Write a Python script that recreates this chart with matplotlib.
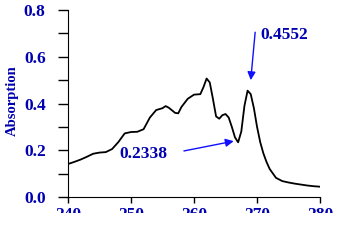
import matplotlib
matplotlib.use("Agg")
import matplotlib.pyplot as plt
from matplotlib.patches import Rectangle

# spectrum
wavelength = [240, 241, 242, 243, 244, 245, 246, 247, 248, 249, 250, 251, 252, 253, 254,
              255, 255.5, 256, 257, 257.5, 258, 259, 260, 261, 261.5, 262, 262.5, 263,
              263.5, 264, 264.5, 265, 265.5, 266, 266.5, 267, 267.5, 268, 268.5, 269,
              269.5, 270, 270.5, 271, 271.5, 272, 273, 274, 275, 276, 277, 278, 279, 280]
absorb = [0.141, 0.150, 0.160, 0.172, 0.185, 0.190, 0.192, 0.205, 0.235, 0.272, 0.278,
          0.279, 0.290, 0.340, 0.372, 0.380, 0.389, 0.382, 0.360, 0.358, 0.385, 0.420,
          0.438, 0.440, 0.470, 0.507, 0.490, 0.420, 0.345, 0.335, 0.350, 0.355, 0.340,
          0.300, 0.255, 0.234, 0.280, 0.390, 0.455, 0.440, 0.380, 0.300, 0.235, 0.187,
          0.150, 0.120, 0.082, 0.068, 0.062, 0.057, 0.053, 0.049, 0.046, 0.044]

xticks = [240, 250, 260, 270, 280]
yticks = [0.0, 0.2, 0.4, 0.6, 0.8]
peak_label = "0.4552"
valley_label = "0.2338"

blue = "#0000b0"
arrow_blue = "#1010ff"
font = dict(family="Liberation Serif", weight="bold")
fs = 12.5

fig = plt.figure(figsize=(3.38, 2.45), dpi=100)
ax = fig.add_axes([0.201, 0.196, 0.746, 0.763])
ax.plot(wavelength, absorb, color="black", lw=1.3)

ax.set_xlim(240, 280)
ax.set_ylim(0, 0.8)
ax.set_xticks(xticks)
ax.set_yticks(yticks)
ax.set_yticks([0.1, 0.3, 0.5, 0.7], minor=True)
ax.set_yticklabels(["%.1f" % v for v in yticks], color=blue, fontsize=fs, **font)
ax.set_xticklabels([str(v) for v in xticks], color=blue, fontsize=fs, **font)
ax.tick_params(axis="y", which="both", direction="out", length=7, width=1, pad=9)
ax.tick_params(axis="x", direction="out", length=4, width=1, pad=3)
for s in ["top", "right"]:
    ax.spines[s].set_visible(False)

ax.set_ylabel("Absorption", color=blue, fontsize=10.5, **font)
ax.yaxis.set_label_coords(-0.196, 0.513)

# peak
ax.annotate("", xy=(269.0, 0.50), xytext=(269.7, 0.705),
            arrowprops=dict(arrowstyle="-|>", color=arrow_blue, lw=1,
                            mutation_scale=12, shrinkA=0, shrinkB=0))
ax.text(270.5, 0.692, peak_label, color=blue, fontsize=fs, ha="left", va="center", **font)

# valley
ax.annotate("", xy=(266.3, 0.239), xytext=(258.4, 0.197),
            arrowprops=dict(arrowstyle="-|>", color=arrow_blue, lw=1,
                            mutation_scale=12, shrinkA=0, shrinkB=0))
ax.text(248.2, 0.183, valley_label, color=blue, fontsize=fs, ha="left", va="center", **font)

# the original cuts off the bottom of the x tick labels
fig.patches.append(Rectangle((0, 0), 1, 32 / 245, transform=fig.transFigure,
                             facecolor="white", edgecolor="none", zorder=10))

fig.savefig("out.png", dpi=100)
